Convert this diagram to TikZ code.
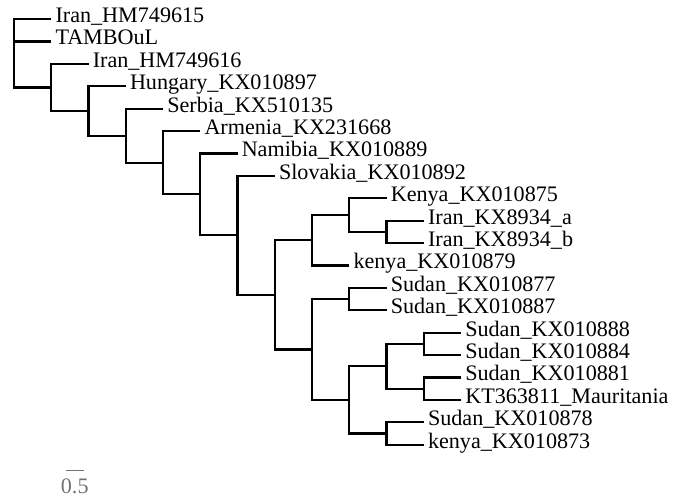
\documentclass[tikz,border=0pt]{standalone}
\usepackage{fontspec}
\setmainfont{Liberation Serif}
\begin{document}
\begin{tikzpicture}[x=0.75pt,y=-0.75pt,
  branch/.style={line width=1.65pt,line join=miter,black},
  leaf/.style={anchor=west,inner xsep=3pt,inner ysep=0pt,
    text height=0.68em,text depth=0.15em,
    font=\fontsize{16.6}{18}\selectfont},
  scalebar/.style={line width=1.2pt,black!55},
  scalelabel/.style={text=black!55,inner sep=0pt,
    font=\fontsize{16.6}{18}\selectfont}]
\useasboundingbox (0,0) rectangle (675,501);

% internal nodes (x = depth level, y = midpoint of outer children)
\coordinate (root) at (14,53);
\coordinate (A) at (51.25,87.4);
\coordinate (B) at (88.5,110.9);
\coordinate (C) at (125.75,135.6);
\coordinate (D) at (163,162.7);
\coordinate (E) at (200.25,194.35);
\coordinate (F) at (237.5,235.3);
\coordinate (G) at (274.75,294.8);
\coordinate (H) at (312,240.2);
\coordinate (I) at (312,349.4);
\coordinate (J) at (349.25,215);
\coordinate (K) at (386.5,231.8);
\coordinate (L) at (349.25,299);
\coordinate (M) at (349.25,399.8);
\coordinate (N) at (386.5,366.2);
\coordinate (O) at (386.5,433.4);
\coordinate (P) at (423.75,343.8);
\coordinate (Q) at (423.75,388.6);

% tips
\node[leaf] (t0)  at (51.25,19)    {Iran\_HM749615};
\node[leaf] (t1)  at (51.25,41.4)  {TAMBOuL};
\node[leaf] (t2)  at (88.5,63.8)   {Iran\_HM749616};
\node[leaf] (t3)  at (125.75,86.2) {Hungary\_KX010897};
\node[leaf] (t4)  at (163,108.6)   {Serbia\_KX510135};
\node[leaf] (t5)  at (200.25,131)  {Armenia\_KX231668};
\node[leaf] (t6)  at (237.5,153.4) {Namibia\_KX010889};
\node[leaf] (t7)  at (274.75,175.8){Slovakia\_KX010892};
\node[leaf] (t8)  at (386.5,198.2) {Kenya\_KX010875};
\node[leaf] (t9)  at (423.75,220.6){Iran\_KX8934\_a};
\node[leaf] (t10) at (423.75,243)  {Iran\_KX8934\_b};
\node[leaf] (t11) at (349.25,265.4){kenya\_KX010879};
\node[leaf] (t12) at (386.5,287.8) {Sudan\_KX010877};
\node[leaf] (t13) at (386.5,310.2) {Sudan\_KX010887};
\node[leaf] (t14) at (461,332.6)   {Sudan\_KX010888};
\node[leaf] (t15) at (461,355)     {Sudan\_KX010884};
\node[leaf] (t16) at (461,377.4)   {Sudan\_KX010881};
\node[leaf] (t17) at (461,399.8)   {KT363811\_Mauritania};
\node[leaf] (t18) at (423.75,422.2){Sudan\_KX010878};
\node[leaf] (t19) at (423.75,444.6){kenya\_KX010873};

% branches: parent |- child
\draw[branch] (root) |- (t0.west);
\draw[branch] (root) |- (t1.west);
\draw[branch] (root) |- (A);
\draw[branch] (A) |- (t2.west);
\draw[branch] (A) |- (B);
\draw[branch] (B) |- (t3.west);
\draw[branch] (B) |- (C);
\draw[branch] (C) |- (t4.west);
\draw[branch] (C) |- (D);
\draw[branch] (D) |- (t5.west);
\draw[branch] (D) |- (E);
\draw[branch] (E) |- (t6.west);
\draw[branch] (E) |- (F);
\draw[branch] (F) |- (t7.west);
\draw[branch] (F) |- (G);
\draw[branch] (G) |- (H);
\draw[branch] (G) |- (I);
\draw[branch] (H) |- (J);
\draw[branch] (H) |- (t11.west);
\draw[branch] (J) |- (t8.west);
\draw[branch] (J) |- (K);
\draw[branch] (K) |- (t9.west);
\draw[branch] (K) |- (t10.west);
\draw[branch] (I) |- (L);
\draw[branch] (I) |- (M);
\draw[branch] (L) |- (t12.west);
\draw[branch] (L) |- (t13.west);
\draw[branch] (M) |- (N);
\draw[branch] (M) |- (O);
\draw[branch] (N) |- (P);
\draw[branch] (N) |- (Q);
\draw[branch] (P) |- (t14.west);
\draw[branch] (P) |- (t15.west);
\draw[branch] (Q) |- (t16.west);
\draw[branch] (Q) |- (t17.west);
\draw[branch] (O) |- (t18.west);
\draw[branch] (O) |- (t19.west);

% scale bar
\coordinate (sbl) at (65.5,470.5);
\coordinate (sbr) at (84,470.5);
\draw[scalebar] (sbl) -- (sbr);
\node[scalelabel,anchor=north] (sbt) at (74.75,479) {0.5};
\end{tikzpicture}
\end{document}
